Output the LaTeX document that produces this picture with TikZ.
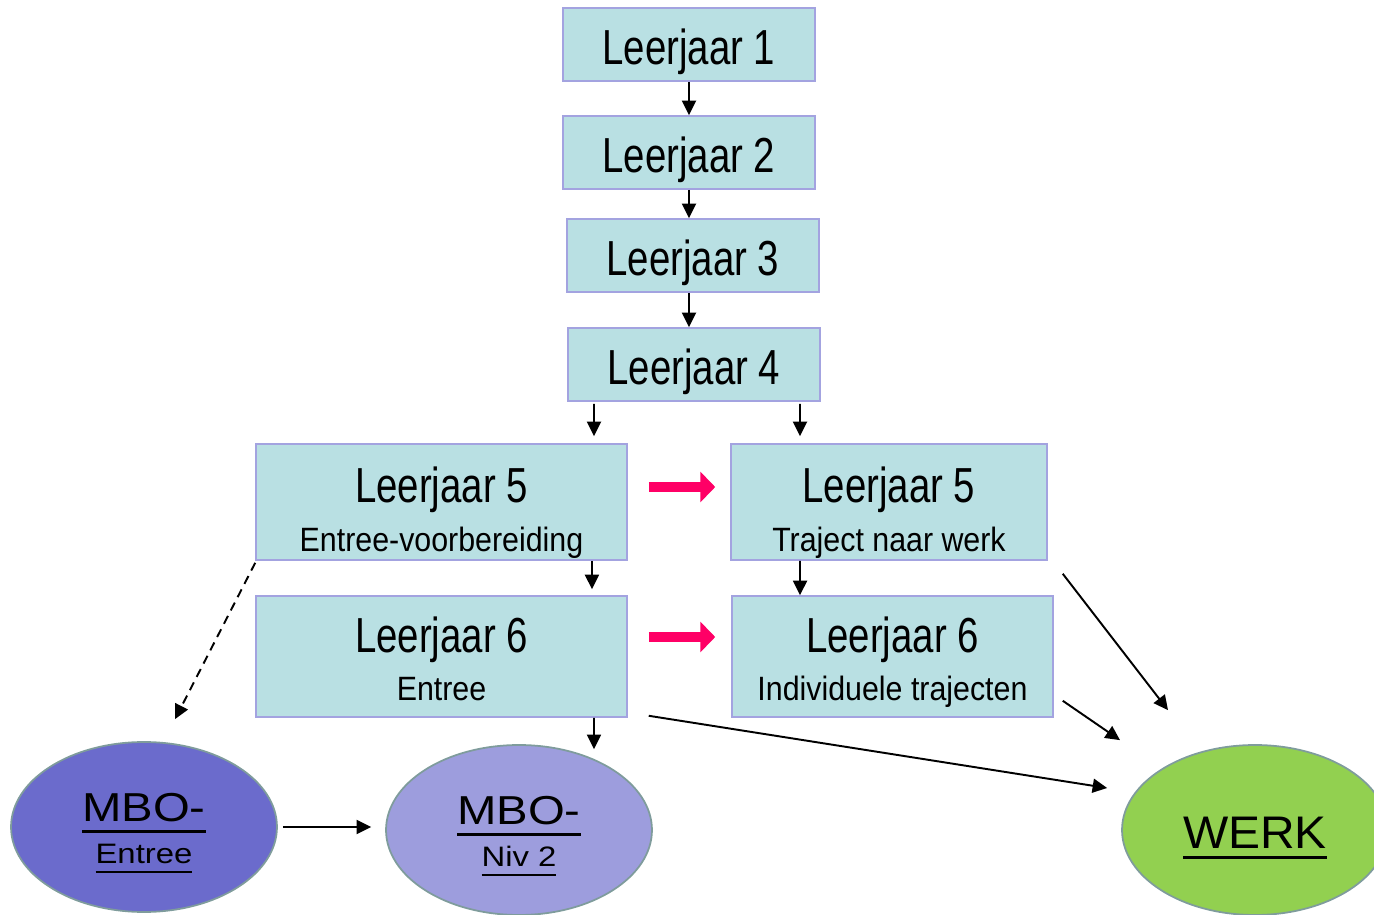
\documentclass[tikz,border=0pt]{standalone}
\usepackage{fontspec}
\setmainfont{Liberation Sans}
\newfontfamily\titelfont{Liberation Sans}[FakeStretch=0.78]
\newfontfamily\subfont{Liberation Sans}[FakeStretch=0.9]
\newfontfamily\ovaalfont{Liberation Sans}[FakeStretch=1.17]
\newfontfamily\werkfont{Liberation Sans}[FakeStretch=1.05]
\usetikzlibrary{arrows.meta,shapes.geometric}
\definecolor{boxfill}{HTML}{B9E0E3}
\definecolor{boxline}{HTML}{A3A3E0}
\definecolor{ovline}{HTML}{7F9C9C}
\definecolor{mboent}{HTML}{6B6BCC}
\definecolor{mboniv}{HTML}{9D9DDD}
\definecolor{werkgroen}{HTML}{92D050}
\definecolor{roze}{HTML}{FF0066}
\newcommand{\groot}{\titelfont\fontsize{28}{30}\selectfont}
\newcommand{\klein}{\subfont\fontsize{19.2}{27.8}\selectfont}
\newcommand{\mbo}{\ovaalfont\fontsize{23}{25}\selectfont}
% onderstreping: diepte, dikte, tekst
\newcommand{\streep}[3]{\setbox0=\hbox{#3}\rlap{\rule[-#1]{\wd0}{#2}}\box0}
\tikzset{
  jaar/.style={draw=boxline, line width=0.9pt, fill=boxfill, inner sep=0pt, align=center, font=\klein},
  jaar1/.style={jaar, minimum width=5.04cm, minimum height=1.46cm, font=\groot, text height=23.3pt, text depth=0pt},
  ovaal/.style={ellipse, draw=ovline, line width=1pt, inner sep=0pt, align=center,
    minimum width=5.32cm, minimum height=3.4cm, font=\ovaalfont\fontsize{16}{24.4}\selectfont},
  arr/.style={-{Triangle[length=0.29cm,width=0.28cm]}, line width=1.1pt},
  rozepijl/.style={-{Triangle[length=0.3cm,width=0.6cm]}, line width=5.5pt, draw=roze}
}
\begin{document}
\begin{tikzpicture}[x=0.02cm, y=-0.02cm]
  \useasboundingbox (0,0) rectangle (1374,915);

  \node[jaar1] (l1) at (689,44.5) {Leerjaar 1};
  \node[jaar1] (l2) at (689,152.5) {Leerjaar 2};
  \node[jaar1] (l3) at (693,255.5) {Leerjaar 3};
  \node[jaar1] (l4) at (694,364.5) {Leerjaar 4};

  \node[jaar, minimum width=7.42cm, minimum height=2.32cm] (l5a) at (441.5,502)
    {{\groot Leerjaar 5\rule{0pt}{32.9pt}}\\Entree-voorbereiding\rule[-4pt]{0pt}{4pt}};
  \node[jaar, minimum width=6.32cm, minimum height=2.32cm] (l5b) at (889,502)
    {{\groot Leerjaar 5\rule{0pt}{32.9pt}}\\Traject naar werk\rule[-4pt]{0pt}{4pt}};
  \node[jaar, minimum width=7.42cm, minimum height=2.42cm] (l6a) at (441.5,656.5)
    {{\groot Leerjaar 6\rule{0pt}{26.7pt}}\\Entree\rule[-4pt]{0pt}{4pt}};
  \node[jaar, minimum width=6.42cm, minimum height=2.42cm] (l6b) at (892.5,656.5)
    {{\groot Leerjaar 6\rule{0pt}{26.7pt}}\\Individuele trajecten\rule[-4pt]{0pt}{4pt}};

  \node[ovaal, fill=mboent] (entree) at (144,827)
    {{\mbo\streep{7pt}{1.7pt}{MBO-}\rule{0pt}{22.7pt}}\\\streep{5pt}{1.1pt}{Entree}\rule[-4pt]{0pt}{4pt}};
  \node[ovaal, fill=mboniv] (niv2) at (519,830)
    {{\mbo\streep{7pt}{1.7pt}{MBO-}\rule{0pt}{22.7pt}}\\\streep{5pt}{1.1pt}{Niv 2}\rule[-4pt]{0pt}{4pt}};
  \node[ovaal, fill=werkgroen, font=\werkfont\fontsize{26}{28}\selectfont,
    text height=20.5pt, text depth=0pt] (werk) at (1255,830) {\streep{6pt}{1.7pt}{WERK}};

  \draw[arr] (l1) -- (l2);
  \draw[arr] (l2.south) -- (l2.south |- l3.north);
  \draw[arr] (l2.south |- l3.south) -- (l2.south |- l4.north);
  \draw[arr] ([xshift=-2cm,yshift=-0.04cm]l4.south) -- ([xshift=3.05cm,yshift=0.14cm]l5a.north);
  \draw[arr] ([xshift=2.12cm,yshift=-0.04cm]l4.south) -- ([xshift=-1.78cm,yshift=0.14cm]l5b.north);
  \draw[arr] ([xshift=3.01cm]l5a.south) -- ([xshift=3.01cm,yshift=0.12cm]l6a.north);
  \draw[arr] ([xshift=-1.78cm]l5b.south) -- ([xshift=-1.85cm]l6b.north);
  \draw[arr] ([xshift=3.05cm]l6a.south) -- ([xshift=1.5cm,yshift=-0.1cm]niv2.north);

  \draw[arr, dash pattern=on 5pt off 3.5pt] ([yshift=-0.04cm]l5a.south west) -- ([xshift=0.62cm,yshift=0.44cm]entree.north);
  \draw[arr, shorten <=0.1cm, shorten >=0.28cm] (entree.east) -- (entree.east -| niv2.west);

  \draw[arr] ([xshift=0.42cm,yshift=0.04cm]l6a.south east) -- ([xshift=-0.28cm,yshift=0.84cm]werk.west);
  \draw[arr] ([xshift=0.18cm,yshift=0.34cm]l6b.south east) -- ([xshift=-2.7cm,yshift=0.08cm]werk.north);
  \draw[arr] ([xshift=0.3cm,yshift=-0.26cm]l5b.south east) -- ([xshift=-1.74cm,yshift=0.68cm]werk.north);

  \draw[rozepijl] ([xshift=0.42cm,yshift=0.3cm]l5a.east) -- ([xshift=-0.3cm,yshift=0.3cm]l5b.west);
  \draw[rozepijl] ([xshift=0.42cm,yshift=0.39cm]l6a.east) -- ([xshift=-0.32cm,yshift=0.39cm]l6b.west);
\end{tikzpicture}
\end{document}
